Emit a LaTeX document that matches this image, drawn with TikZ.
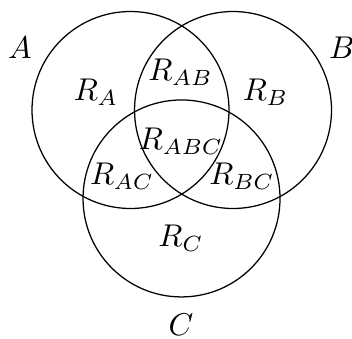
\documentclass[tikz,border=0pt]{standalone}
\usepackage{amsmath}
\usepackage{amssymb}
\tikzstyle{set-circle} = [draw=black, circle, minimum size=2.2cm, inner sep=0pt]
\tikzstyle{region} = [inner sep=0pt]
\tikzstyle{set-name} = [inner sep=0pt]

\begin{document}
\begin{tikzpicture}[scale=1.1]
\useasboundingbox (-1.325,-2.315) rectangle (2.249,1.117);
\node [set-circle] (setA) at (0,0) {};
\node [set-circle] (setB) at (1.041,0) {};
\node [set-circle] (setC) at (0.518,-0.898) {};
% set names
\node [set-name] (nameA) at (-1.122,0.629) {$A$};
\node [set-name] (nameB) at (2.147,0.629) {$B$};
\node [set-name] (nameC) at (0.513,-2.185) {$C$};
% regions
\node [region] (rA) at (-0.350,0.183) {$R_A$};
\node [region] (rB) at (1.371,0.183) {$R_B$};
\node [region] (rC) at (0.513,-1.299) {$R_C$};
\node [region] (rAB) at (0.508,0.386) {$R_{AB}$};
\node [region] (rAC) at (-0.086,-0.670) {$R_{AC}$};
\node [region] (rBC) at (1.132,-0.670) {$R_{BC}$};
\node [region] (rABC) at (0.513,-0.315) {$R_{ABC}$};
\end{tikzpicture}
\end{document}
